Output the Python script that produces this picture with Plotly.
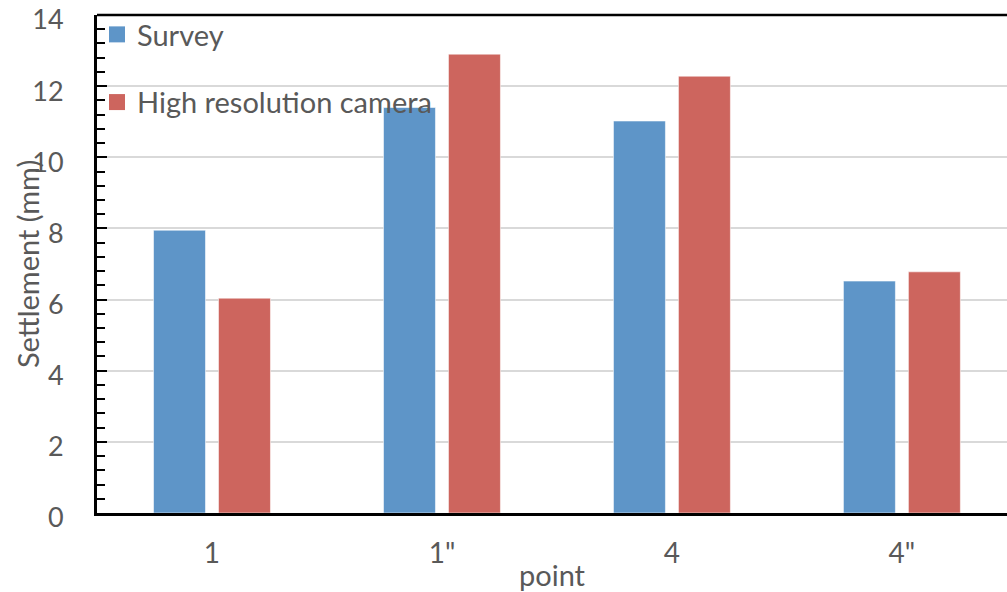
import plotly.graph_objects as go

categories = ["1", "1\"", "4", "4\""]
survey = [7.95, 11.4, 11.02, 6.52]
camera = [6.04, 12.9, 12.28, 6.78]
y_ticks = [0, 2, 4, 6, 8, 10, 12, 14]

FONT = "Lato"
TXT = "#595959"
FS = 29
BLUE = "#5E95C8"
RED = "#CD655E"

fig = go.Figure()
fig.add_trace(go.Bar(
    x=categories, y=survey, name="Survey", showlegend=False,
    marker=dict(color=BLUE, line=dict(color="rgba(255,255,255,0.55)", width=1)),
))
fig.add_trace(go.Bar(
    x=categories, y=camera, name="High resolution camera", showlegend=False,
    marker=dict(color=RED, line=dict(color="rgba(255,255,255,0.55)", width=1)),
))
# legend entries with larger square swatches
fig.add_trace(go.Scatter(x=[categories[0]], y=[None], mode="markers", name="Survey",
                         legendgroup="a", marker=dict(symbol="square", size=18, color=BLUE)))
fig.add_trace(go.Scatter(x=[categories[0]], y=[None], mode="markers", name="High resolution camera",
                         legendgroup="b", marker=dict(symbol="square", size=18, color=RED)))

fig.update_layout(
    width=1007, height=592,
    margin=dict(l=97, r=0, t=15, b=79, autoexpand=False),
    paper_bgcolor="white", plot_bgcolor="white",
    font=dict(family=FONT, size=FS, color=TXT),
    barmode="group", bargap=0.435, bargroupgap=0.2,
    showlegend=True,
    legend=dict(x=0.0, y=1.012, xanchor="left", yanchor="top",
                bgcolor="rgba(0,0,0,0)", font=dict(family=FONT, size=FS, color=TXT),
                traceorder="grouped", tracegroupgap=27, itemwidth=30),
    xaxis=dict(
        range=[-0.5, 3.457], showgrid=False, showline=True, linecolor="black", linewidth=2.5,
        ticks="", tickfont=dict(family=FONT, size=28, color=TXT),
        title=dict(text="point", font=dict(family=FONT, size=FS, color=TXT), standoff=0),
        ticklabelstandoff=14, automargin=False,
    ),
    yaxis=dict(
        range=[0, 14], tickvals=y_ticks, ticktext=[str(v) for v in y_ticks],
        showgrid=True, gridcolor="#D9D9D9", gridwidth=2,
        showline=True, linecolor="black", linewidth=3,
        ticks="inside", ticklen=10, tickwidth=2, tickcolor="black",
        minor=dict(dtick=0.4, ticks="inside", ticklen=8, tickwidth=2, tickcolor="black", showgrid=False),
        tickfont=dict(family=FONT, size=27, color=TXT),
        ticklabelstandoff=25, ticklabelshift=5, ticklabeloverflow="allow", automargin=False,
        zeroline=False,
    ),
    annotations=[dict(text="Settlement (mm)", textangle=-90, xref="paper", yref="paper",
                      x=-0.0769, y=0.5, xanchor="center", yanchor="middle", showarrow=False,
                      font=dict(family=FONT, size=FS, color=TXT))],
)
# top border line
fig.add_shape(type="line", xref="paper", yref="paper", x0=0, x1=1, y0=1, y1=1,
              line=dict(color="black", width=2.5))

fig.write_html("out.html")
